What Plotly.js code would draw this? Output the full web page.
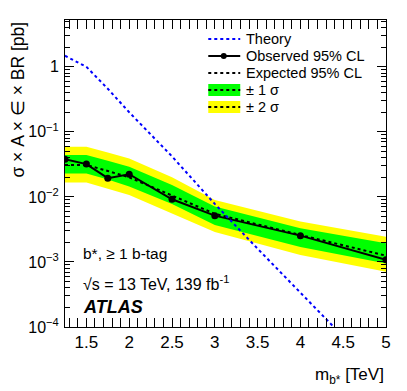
<!DOCTYPE html>
<html>
<head>
<meta charset="utf-8">
<script src="https://cdn.plot.ly/plotly-3.0.1.min.js"></script>
<style>
  html, body { margin: 0; padding: 0; background: #fff; }
  #plot { width: 407px; height: 391px; }
</style>
</head>
<body>
<div id="plot"></div>
<script>
// b* mass points [TeV]
const masses = [1.25, 1.5, 1.75, 2, 2.5, 3, 4, 5]
const observed = [0.038, 0.032, 0.0194, 0.0223, 0.0092, 0.00515, 0.00254, 0.00108]
const expected = [0.031, 0.031, 0.025, 0.020, 0.0105, 0.0055, 0.0026, 0.00125]
const plus1 = [0.044, 0.044, 0.036, 0.029, 0.0152, 0.0071, 0.0033, 0.00194]
const minus1 = [0.023, 0.023, 0.0185, 0.0144, 0.0078, 0.0037, 0.0017, 0.00095]
const plus2 = [0.059, 0.059, 0.048, 0.039, 0.020, 0.0090, 0.0042, 0.00245]
const minus2 = [0.0166, 0.0166, 0.0133, 0.0107, 0.0056, 0.0029, 0.00128, 0.00071]

const theoryMass = [1.25, 1.5, 1.75, 2, 2.5, 3, 3.5, 4, 4.5, 5]
const theory = [1.48, 1.0, 0.46, 0.2, 0.042, 0.0078, 0.0016, 3.3e-4, 7e-5, 1.5e-5]

const yTickVals = [1e-4, 1e-3, 1e-2, 1e-1, 1]
const yTickText = ['10<sup>−4</sup>', '10<sup>−3</sup>', '10<sup>−2</sup>', '10<sup>−1</sup>', '1']

const legendLabels = ['Theory', 'Observed 95% CL', 'Expected 95% CL', '± 1 σ', '± 2 σ']

const font = 'Liberation Sans, Arial, Helvetica, sans-serif'
const W = 407
const H = 391
const M = { l: 64.5, r: 21, t: 20, b: 64 }

// pixel -> paper helpers (for legend placement only)
const px = (x) => (x - M.l) / (W - M.l - M.r)
const py = (y) => (H - M.b - y) / (H - M.t - M.b)

// closed band polygon: upper edge forward, lower edge back
function band (upper, lower) {
  return {
    x: masses.concat(masses.slice().reverse()),
    y: upper.concat(lower.slice().reverse())
  }
}

const yellow = band(plus2, minus2)
const green = band(plus1, minus1)

const traces = [
  {
    x: yellow.x, y: yellow.y, mode: 'lines', fill: 'toself',
    fillcolor: '#ffff00', line: { width: 0 }, hoverinfo: 'skip'
  },
  {
    x: green.x, y: green.y, mode: 'lines', fill: 'toself',
    fillcolor: '#00ff00', line: { width: 0 }, hoverinfo: 'skip'
  },
  {
    x: masses, y: expected, mode: 'lines',
    line: { color: 'black', width: 2, dash: 'dot' }
  },
  {
    x: masses, y: observed, mode: 'lines+markers',
    line: { color: 'black', width: 2 }, marker: { color: 'black', size: 7 }
  },
  {
    x: theoryMass, y: theory, mode: 'lines',
    line: { color: '#0000ff', width: 2, dash: 'dot' }
  },
  // empty trace so the minor-tick overlay axis gets drawn
  { x: [null], y: [null], yaxis: 'y2', mode: 'lines', hoverinfo: 'skip' }
]

// minor tick positions on the log axis: 2..9 x 10^k
const minorY = []
for (let k = -4; k <= 0; k++) {
  for (let d = 2; d <= 9; d++) minorY.push(d * Math.pow(10, k))
}

// hand-built legend (ROOT style, tight rows)
const rowY = [39, 56, 73, 90, 107]
const x0 = 208
const x1 = 240
const shapes = []
const legendText = []
rowY.forEach((y, i) => {
  legendText.push({
    text: legendLabels[i], xref: 'paper', yref: 'paper',
    x: px(244), y: py(y), xanchor: 'left', yanchor: 'middle',
    showarrow: false, font: { size: 14.5 }
  })
})
// band boxes
shapes.push({
  type: 'rect', xref: 'paper', yref: 'paper', line: { width: 0 },
  x0: px(x0), x1: px(x1), y0: py(rowY[3] - 6), y1: py(rowY[3] + 6), fillcolor: '#00ff00'
})
shapes.push({
  type: 'rect', xref: 'paper', yref: 'paper', line: { width: 0 },
  x0: px(x0), x1: px(x1), y0: py(rowY[4] - 6), y1: py(rowY[4] + 6), fillcolor: '#ffff00'
})
const legendLines = [
  { y: rowY[0], color: '#0000ff', dash: 'dot' },
  { y: rowY[1], color: 'black', dash: 'solid' },
  { y: rowY[2], color: 'black', dash: 'dot' },
  { y: rowY[3], color: 'black', dash: 'dot' },
  { y: rowY[4], color: 'black', dash: 'dot' }
]
legendLines.forEach((l) => {
  shapes.push({
    type: 'line', xref: 'paper', yref: 'paper',
    x0: px(x0), x1: px(x1), y0: py(l.y), y1: py(l.y),
    line: { color: l.color, width: 2, dash: l.dash }
  })
})
shapes.push({
  type: 'circle', xref: 'paper', yref: 'paper', fillcolor: 'black', line: { width: 0 },
  x0: px(220.5), x1: px(226.5), y0: py(rowY[1] + 3), y1: py(rowY[1] - 3)
})

const layout = {
  width: W,
  height: H,
  margin: M,
  paper_bgcolor: 'white',
  plot_bgcolor: 'white',
  font: { family: font, size: 16, color: 'black' },
  showlegend: false,
  xaxis: {
    range: [1.25, 5],
    tick0: 0, dtick: 0.5,
    ticks: 'inside', ticklen: 9, tickcolor: 'black',
    minor: { ticks: 'inside', ticklen: 5, dtick: 0.1, tickcolor: 'black', showgrid: false },
    showline: true, linecolor: 'black', linewidth: 1, mirror: 'allticks',
    showgrid: false, zeroline: false,
    tickfont: { size: 17 }
  },
  yaxis: {
    type: 'log',
    range: [-4, 0.72],
    tickmode: 'array', tickvals: yTickVals, ticktext: yTickText,
    ticks: 'inside', ticklen: 9, tickcolor: 'black',
    showline: true, linecolor: 'black', linewidth: 1, mirror: 'allticks',
    showgrid: false, zeroline: false,
    tickfont: { size: 16 }, ticklabelstandoff: 2
  },
  yaxis2: {
    type: 'log',
    range: [-4, 0.72],
    overlaying: 'y', side: 'left',
    tickmode: 'array', tickvals: minorY,
    ticks: 'inside', ticklen: 5, tickcolor: 'black',
    showticklabels: false, showline: false, mirror: 'allticks',
    showgrid: false, zeroline: false
  },
  shapes: shapes,
  annotations: legendText.concat([
    {
      text: 'm<sub>b*</sub> [TeV]', xref: 'paper', yref: 'paper',
      x: 1, y: -0.16, xanchor: 'right', yanchor: 'middle',
      showarrow: false, font: { size: 17 }
    },
    {
      text: 'σ × A × ∈ × BR [pb]', xref: 'paper', yref: 'paper',
      x: px(17), y: 1, xanchor: 'center', yanchor: 'top', textangle: -90,
      showarrow: false, font: { size: 17.5 }
    },
    {
      text: 'b*, ≥ 1 b-tag', xref: 'paper', yref: 'paper',
      x: 0.05, y: 0.241, xanchor: 'left', yanchor: 'middle',
      showarrow: false, font: { size: 15.5 }
    },
    {
      text: '√s = 13 TeV, 139 fb<sup>-1</sup>', xref: 'paper', yref: 'paper',
      x: 0.05, y: 0.143, xanchor: 'left', yanchor: 'middle',
      showarrow: false, font: { size: 16 }
    },
    {
      text: '<b><i>ATLAS</i></b>', xref: 'paper', yref: 'paper',
      x: 0.05, y: 0.065, xanchor: 'left', yanchor: 'middle',
      showarrow: false, font: { size: 18 }
    }
  ])
}

Plotly.newPlot('plot', traces, layout, { displayModeBar: false, staticPlot: true })
</script>
</body>
</html>
